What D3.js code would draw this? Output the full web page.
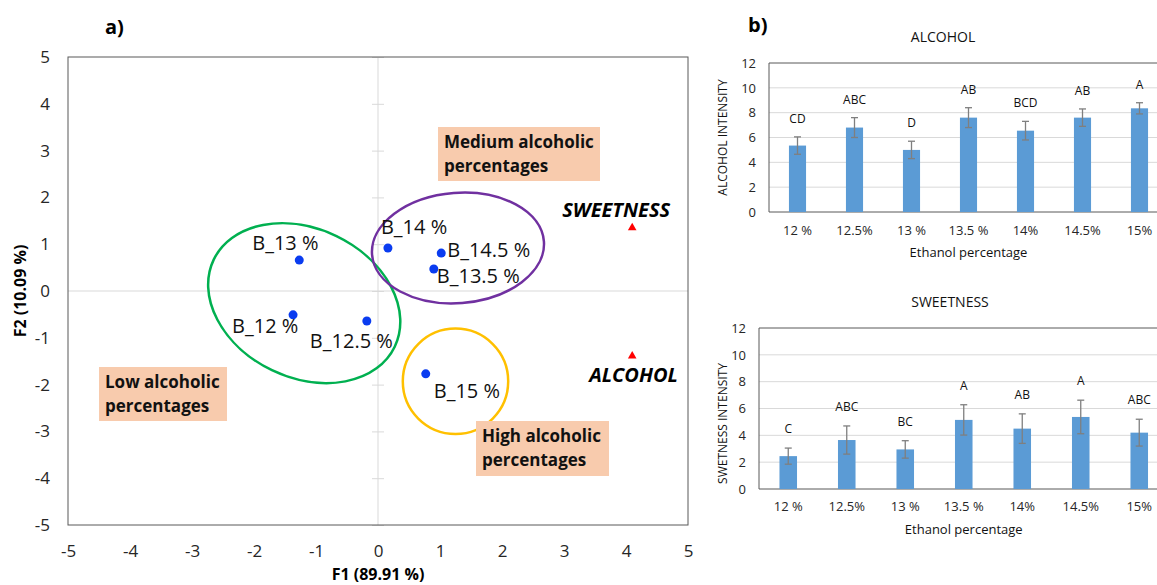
<!DOCTYPE html>
<html>
<head>
<meta charset="utf-8">
<script src="https://cdn.jsdelivr.net/npm/d3@7"></script>
<style>
  body { margin: 0; background: #fff; }
  svg { display: block; font-family: 'Open Sans', sans-serif; }
</style>
</head>
<body>
<svg id="chart" width="1157" height="585"></svg>
<script>
'use strict';

// a) PCA biplot
const sampleNames = ['B_12 %', 'B_12.5 %', 'B_13 %', 'B_13.5 %', 'B_14 %', 'B_14.5 %', 'B_15 %'];
const sampleF1 = [-1.37, -0.18, -1.27, 0.90, 0.16, 1.02, 0.77];
const sampleF2 = [-0.51, -0.64, 0.66, 0.47, 0.92, 0.81, -1.77];

const attrNames = ['SWEETNESS', 'ALCOHOL'];
const attrF1 = [4.10, 4.10];
const attrF2 = [1.35, -1.39];

const axisTicks = [-5, -4, -3, -2, -1, 0, 1, 2, 3, 4, 5];

// b) sensory bars
const ethanolLabels = ['12 %', '12.5%', '13 %', '13.5 %', '14%', '14.5%', '15%'];
const alcoholMean = [5.35, 6.8, 5.0, 7.6, 6.55, 7.6, 8.35];
const alcoholSd = [0.7, 0.8, 0.7, 0.8, 0.75, 0.7, 0.45];
const alcoholLetters = ['CD', 'ABC', 'D', 'AB', 'BCD', 'AB', 'A'];
const sweetMean = [2.45, 3.65, 2.95, 5.15, 4.5, 5.37, 4.2];
const sweetSd = [0.6, 1.05, 0.65, 1.13, 1.1, 1.25, 1.0];
const sweetLetters = ['C', 'ABC', 'BC', 'A', 'AB', 'A', 'ABC'];
const barTicks = [0, 2, 4, 6, 8, 10, 12];

const svg = d3.select('#chart');
const plain = (d) => String(d);   // keep the ascii hyphen like the original

// ---------- scatter ----------
const x = d3.scaleLinear().domain([-5, 5]).range([68, 688]);
const y = d3.scaleLinear().domain([-5, 5]).range([525, 57]);

svg.append('text')
  .attr('x', 105).attr('y', 34)
  .attr('font-size', '20px').attr('font-weight', 'bold')
  .text('a)');

// zero lines
svg.append('line')
  .attr('x1', x(0)).attr('x2', x(0)).attr('y1', y(5)).attr('y2', y(-5))
  .attr('stroke', '#d9d9d9');
svg.append('line')
  .attr('x1', x(-5)).attr('x2', x(5)).attr('y1', y(0)).attr('y2', y(0))
  .attr('stroke', '#d9d9d9');

// little tick marks on the vertical zero line
svg.append('g')
    .attr('transform', 'translate(' + (x(0) - 6) + ',0)')
    .call(d3.axisRight(y).tickValues(axisTicks).tickSize(12).tickFormat(''))
    .call((g) => g.select('.domain').remove())
    .call((g) => g.selectAll('line').attr('stroke', '#d9d9d9'));

svg.append('rect')
  .attr('x', x(-5)).attr('y', y(5))
  .attr('width', x(5) - x(-5)).attr('height', y(-5) - y(5))
  .attr('fill', 'none').attr('stroke', '#595959');

svg.append('g')
    .attr('transform', 'translate(' + x(-5) + ',0)')
    .call(d3.axisLeft(y).tickValues(axisTicks).tickSize(0).tickPadding(18).tickFormat(plain))
    .call((g) => g.select('.domain').remove())
    .selectAll('text')
      .attr('font-family', 'Open Sans').attr('font-size', '17px').attr('fill', '#262626');

svg.append('g')
    .attr('transform', 'translate(0,' + y(-5) + ')')
    .call(d3.axisBottom(x).tickValues(axisTicks).tickSize(0).tickPadding(20).tickFormat(plain))
    .call((g) => g.select('.domain').remove())
    .selectAll('text')
      .attr('font-family', 'Open Sans').attr('font-size', '17px').attr('fill', '#262626');

svg.append('text')
  .attr('x', x(0)).attr('y', 580)
  .attr('text-anchor', 'middle')
  .attr('font-size', '16px').attr('font-weight', 'bold')
  .text('F1 (89.91 %)');
svg.append('text')
  .attr('transform', 'translate(26,' + y(0) + ') rotate(-90)')
  .attr('text-anchor', 'middle')
  .attr('font-size', '16px').attr('font-weight', 'bold')
  .text('F2 (10.09 %)');

// group ellipses (centre in F1/F2, semi-axes in F1 units, tilt in degrees)
const groups = [
  { cx: -1.19, cy: -0.26, a: 1.62, b: 1.20, tilt: 25.7, color: '#00b050' },
  { cx: 1.29, cy: 0.92, a: 1.39, b: 0.89, tilt: -4.4, color: '#7030a0' },
  { cx: 1.25, cy: -1.93, a: 0.85, b: 0.85, tilt: 0, color: '#ffc000' }
];
const unit = x(1) - x(0);
svg.selectAll('.group')
  .data(groups)
  .enter()
  .append('ellipse')
    .attr('class', 'group')
    .attr('transform', (d) => 'translate(' + x(d.cx) + ',' + y(d.cy) + ') rotate(' + d.tilt + ')')
    .attr('rx', (d) => d.a * unit)
    .attr('ry', (d) => d.b * unit)
    .attr('fill', 'none')
    .attr('stroke', (d) => d.color)
    .attr('stroke-width', 2.5);

// annotation boxes
const boxes = [
  { x: 438, y: 127, w: 162, h: 54, lines: ['Medium alcoholic', 'percentages'] },
  { x: 99, y: 367, w: 128, h: 54, lines: ['Low alcoholic', 'percentages'] },
  { x: 476, y: 421, w: 133, h: 55, lines: ['High alcoholic', 'percentages'] }
];
const box = svg.selectAll('.box')
  .data(boxes)
  .enter()
  .append('g')
    .attr('class', 'box')
    .attr('transform', (d) => 'translate(' + d.x + ',' + d.y + ')');
box.append('rect')
  .attr('width', (d) => d.w).attr('height', (d) => d.h)
  .attr('fill', '#f8cbad');
box.selectAll('text')
  .data((d) => d.lines)
  .enter()
  .append('text')
    .attr('x', 6)
    .attr('y', (d, i) => 21 + i * 23.5)
    .attr('font-size', '17px').attr('font-weight', 'bold')
    .attr('fill', '#111')
    .text((d) => d);

// sample points
const samples = sampleNames.map((name, i) => ({ name, f1: sampleF1[i], f2: sampleF2[i] }));
const labelOffset = [[-61, 18], [-57, 27], [-47, -10], [3, 14], [-7, -14], [6, 4], [8, 24]];

svg.selectAll('.pt')
  .data(samples)
  .enter()
  .append('circle')
    .attr('class', 'pt')
    .attr('r', 4.5)
    .attr('cx', (d) => x(d.f1))
    .attr('cy', (d) => y(d.f2))
    .attr('fill', '#0a3cf0');

svg.selectAll('.pt-label')
  .data(samples)
  .enter()
  .append('text')
    .attr('class', 'pt-label')
    .attr('x', (d, i) => x(d.f1) + labelOffset[i][0])
    .attr('y', (d, i) => y(d.f2) + labelOffset[i][1])
    .attr('font-size', '20px')
    .attr('fill', '#111')
    .text((d) => d.name);

// attribute triangles
const attrs = attrNames.map((name, i) => ({ name, f1: attrF1[i], f2: attrF2[i] }));
const attrOffset = [[-70, -11], [-43, 26]];
svg.selectAll('.attr')
  .data(attrs)
  .enter()
  .append('path')
    .attr('class', 'attr')
    .attr('d', d3.symbol(d3.symbolTriangle, 32))
    .attr('transform', (d) => 'translate(' + x(d.f1) + ',' + y(d.f2) + ')')
    .attr('fill', '#ff0000');
svg.selectAll('.attr-label')
  .data(attrs)
  .enter()
  .append('text')
    .attr('class', 'attr-label')
    .attr('x', (d, i) => x(d.f1) + attrOffset[i][0])
    .attr('y', (d, i) => y(d.f2) + attrOffset[i][1])
    .attr('font-size', '20px').attr('font-weight', 'bold').attr('font-style', 'italic')
    .text((d) => d.name);

// ---------- bar charts ----------
svg.append('text')
  .attr('x', 748).attr('y', 32)
  .attr('font-size', '20px').attr('font-weight', 'bold')
  .text('b)');

function barChart(opt) {
  const bx = d3.scaleBand()
    .domain(ethanolLabels)
    .range([opt.left, opt.right])
    .paddingInner(0.7)
    .paddingOuter(0.35);
  const by = d3.scaleLinear().domain([0, 12]).range([opt.bottom, opt.top]);

  const g = svg.append('g');

  g.selectAll('.grid')
    .data(barTicks.slice(1, -1))
    .enter()
    .append('line')
      .attr('x1', opt.left).attr('x2', opt.right)
      .attr('y1', (d) => by(d)).attr('y2', (d) => by(d))
      .attr('stroke', '#d9d9d9');

  g.append('path')
    .attr('d', 'M' + opt.right + ',' + by(12) + 'H' + opt.left + 'V' + by(0) + 'H' + opt.right)
    .attr('fill', 'none')
    .attr('stroke', '#595959');

  g.append('g')
      .attr('transform', 'translate(' + opt.left + ',0)')
      .call(d3.axisLeft(by).tickValues(barTicks).tickSize(0).tickPadding(13))
      .call((a) => a.select('.domain').remove())
      .selectAll('text')
        .attr('font-family', 'Open Sans').attr('font-size', '13px').attr('fill', '#262626');

  g.append('g')
      .attr('transform', 'translate(0,' + opt.bottom + ')')
      .call(d3.axisBottom(bx).tickSize(0).tickPadding(opt.xPad))
      .call((a) => a.select('.domain').remove())
      .selectAll('text')
        .attr('font-family', 'Open Sans').attr('font-size', '13px').attr('fill', '#262626');

  const rows = ethanolLabels.map((c, i) => ({ c, m: opt.mean[i], s: opt.sd[i], l: opt.letters[i] }));

  g.selectAll('.bar')
    .data(rows)
    .enter()
    .append('rect')
      .attr('class', 'bar')
      .attr('x', (d) => bx(d.c))
      .attr('width', bx.bandwidth())
      .attr('y', (d) => by(d.m))
      .attr('height', (d) => by(0) - by(d.m))
      .attr('fill', '#5b9bd5');

  const cx = (d) => bx(d.c) + bx.bandwidth() / 2;
  const err = g.selectAll('.err')
    .data(rows)
    .enter()
    .append('g')
      .attr('class', 'err')
      .attr('stroke', '#7f7f7f')
      .attr('stroke-width', 1.3);
  err.append('line')
    .attr('x1', cx).attr('x2', cx)
    .attr('y1', (d) => by(d.m + d.s)).attr('y2', (d) => by(d.m - d.s));
  err.append('line')
    .attr('x1', (d) => cx(d) - 3.5).attr('x2', (d) => cx(d) + 3.5)
    .attr('y1', (d) => by(d.m + d.s)).attr('y2', (d) => by(d.m + d.s));
  err.append('line')
    .attr('x1', (d) => cx(d) - 3.5).attr('x2', (d) => cx(d) + 3.5)
    .attr('y1', (d) => by(d.m - d.s)).attr('y2', (d) => by(d.m - d.s));

  g.selectAll('.letter')
    .data(rows)
    .enter()
    .append('text')
      .attr('class', 'letter')
      .attr('x', cx)
      .attr('y', (d) => by(d.m + d.s) - opt.letterGap)
      .attr('text-anchor', 'middle')
      .attr('font-size', '12px')
      .attr('fill', '#111')
      .text((d) => d.l);

  g.append('text')
    .attr('x', opt.titleX).attr('y', opt.titleY)
    .attr('text-anchor', 'middle')
    .attr('font-size', '14px')
    .attr('fill', '#111')
    .text(opt.title);

  g.append('text')
    .attr('x', (opt.left + opt.right) / 2).attr('y', opt.bottom + opt.xTitleGap)
    .attr('text-anchor', 'middle')
    .attr('font-size', '13px')
    .attr('fill', '#111')
    .text('Ethanol percentage');

  g.append('text')
    .attr('transform', 'translate(727,' + ((opt.top + opt.bottom) / 2 + opt.yLabelShift) + ') rotate(-90)')
    .attr('text-anchor', 'middle')
    .attr('font-size', '12px')
    .attr('fill', '#111')
    .text(opt.yLabel);
}

barChart({
  left: 769, right: 1168, top: 63, bottom: 212,
  mean: alcoholMean, sd: alcoholSd, letters: alcoholLetters,
  title: 'ALCOHOL', titleX: 943, titleY: 42,
  yLabel: 'ALCOHOL INTENSITY', yLabelShift: 0,
  xPad: 14, xTitleGap: 45, letterGap: 14
});

barChart({
  left: 759, right: 1168.5, top: 328, bottom: 489,
  mean: sweetMean, sd: sweetSd, letters: sweetLetters,
  title: 'SWEETNESS', titleX: 950, titleY: 307,
  yLabel: 'SWETNESS INTENSITY', yLabelShift: 15,
  xPad: 13, xTitleGap: 45, letterGap: 15
});
</script>
</body>
</html>
